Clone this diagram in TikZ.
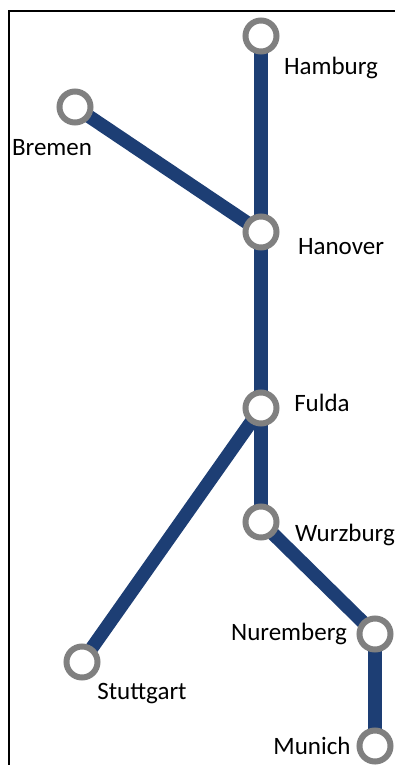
\documentclass[tikz,border=0pt]{standalone}
\usepackage{fontspec}
\setmainfont{Carlito}
\usetikzlibrary{backgrounds}
\definecolor{railblue}{RGB}{29,62,116}
\definecolor{ringgray}{RGB}{128,128,128}
\tikzset{
  station/.style={circle, draw=ringgray, line width=6pt, fill=white, minimum size=31pt, inner sep=0pt},
  rail/.style={draw=railblue, line width=13.5pt},
  lbl/.style={font=\fontsize{25}{29}\selectfont, inner sep=0pt, text=black},
  frame/.style={draw=black, line width=1.2pt}
}
\begin{document}
\begin{tikzpicture}[x=1pt, y=-1pt]
\useasboundingbox (0,0) rectangle (395,765);
\draw[frame] (9,765) -- (9,11) -- (395,11);
% stations
\node[station] (ham) at (261,36) {};
\node[station] (bre) at (75,107) {};
\node[station] (han) at (261,232) {};
\node[station] (ful) at (261,408) {};
\node[station] (wur) at (261,522) {};
\node[station] (nur) at (375,634) {};
\node[station] (mun) at (375,746) {};
\node[station] (stu) at (82,662) {};
% rails
\begin{scope}[on background layer]
\draw[rail] (ham.center) -- (han.center);
\draw[rail] (bre.center) -- (han.center);
\draw[rail] (han.center) -- (ful.center);
\draw[rail] (ful.center) -- (wur.center);
\draw[rail] (ful.center) -- (stu.center);
\draw[rail] (wur.center) -- (nur.center);
\draw[rail] (nur.center) -- (mun.center);
\end{scope}
% labels
\node[lbl] (lham) at (331,68) {Hamburg};
\node[lbl] (lbre) at (52,148) {Bremen};
\node[lbl] (lhan) at (341,247) {Hanover};
\node[lbl] (lful) at (322,403) {Fulda};
\node[lbl, anchor=west] (lwur) at (295,535) {Wurzburg};
\node[lbl] (lnur) at (289,634) {Nuremberg};
\node[lbl] (lmun) at (312,746) {Munich};
\node[lbl] (lstu) at (142,694) {Stuttgart};
\end{tikzpicture}
\end{document}
